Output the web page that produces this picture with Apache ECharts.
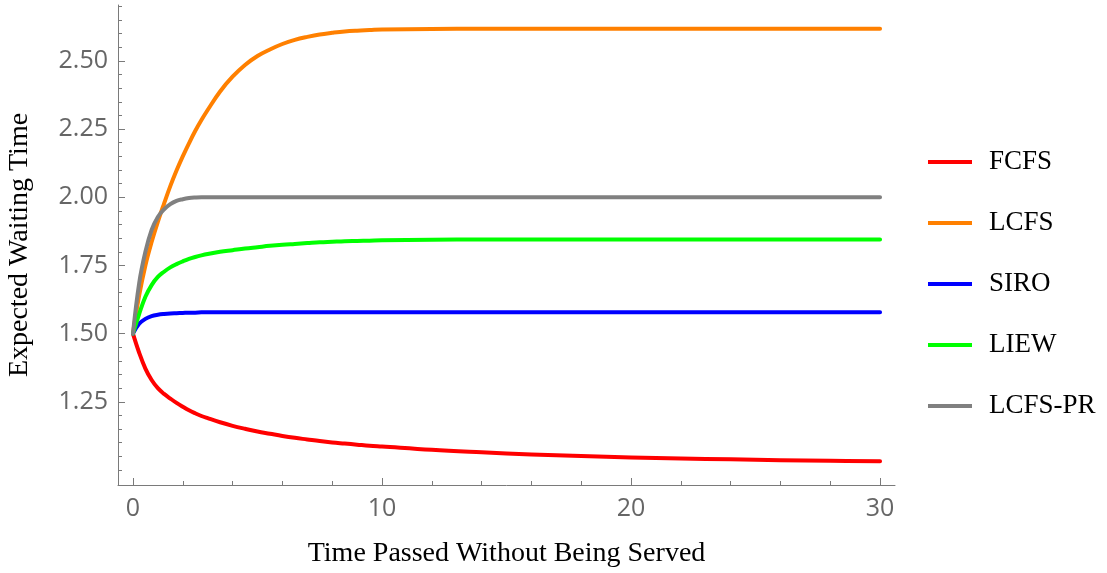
<!DOCTYPE html>
<html>
<head>
<meta charset="utf-8">
<script src="https://cdn.jsdelivr.net/npm/echarts@6/dist/echarts.min.js"></script>
<style>html,body{margin:0;padding:0;background:#fff}#c{width:1107px;height:573px}</style>
</head>
<body>
<div id="c"></div>
<script>
// Time values (x)
const timePoints = [0, 0.25, 0.5, 0.75, 1, 1.25, 1.5, 1.75, 2, 2.25, 2.5, 2.75, 3,
  3.5, 4, 4.5, 5, 5.5, 6, 6.5, 7, 7.5, 8, 8.5, 9, 9.5, 10,
  12, 14, 16, 18, 20, 22, 24, 26, 28, 30];
// Series values
const fcfs = [1.5, 1.43, 1.372, 1.330, 1.300, 1.279, 1.262, 1.246, 1.232, 1.219, 1.208, 1.198, 1.190,
  1.175, 1.162, 1.151, 1.141, 1.133, 1.125, 1.118, 1.112, 1.106, 1.101, 1.097, 1.093, 1.089, 1.086,
  1.074, 1.065, 1.057, 1.051, 1.046, 1.042, 1.039, 1.036, 1.034, 1.032];
const lcfs = [1.5, 1.64, 1.75, 1.836, 1.91, 1.977, 2.041, 2.098, 2.15, 2.198, 2.243, 2.283, 2.32,
  2.388, 2.442, 2.485, 2.518, 2.542, 2.562, 2.577, 2.588, 2.597, 2.603, 2.608, 2.611, 2.613, 2.615,
  2.617, 2.618, 2.618, 2.618, 2.618, 2.618, 2.618, 2.618, 2.618, 2.618];
const siro = [1.5, 1.536, 1.554, 1.564, 1.569, 1.572, 1.574, 1.575, 1.576, 1.577, 1.577, 1.578, 1.578,
  1.578, 1.578, 1.578, 1.578, 1.578, 1.578, 1.578, 1.578, 1.578, 1.578, 1.578, 1.578, 1.578, 1.578,
  1.578, 1.578, 1.578, 1.578, 1.578, 1.578, 1.578, 1.578, 1.578, 1.578];
const liew = [1.5, 1.572, 1.635, 1.678, 1.708, 1.727, 1.743, 1.755, 1.765, 1.774, 1.781, 1.787, 1.792,
  1.800, 1.806, 1.812, 1.817, 1.822, 1.826, 1.829, 1.832, 1.835, 1.837, 1.839, 1.840, 1.841, 1.842,
  1.844, 1.845, 1.845, 1.845, 1.845, 1.845, 1.845, 1.845, 1.845, 1.845];
const lcfsPr = [1.5, 1.685, 1.80, 1.88, 1.928, 1.956, 1.975, 1.987, 1.993, 1.997, 1.999, 2.0, 2.0,
  2.0, 2.0, 2.0, 2.0, 2.0, 2.0, 2.0, 2.0, 2.0, 2.0, 2.0, 2.0, 2.0, 2.0,
  2.0, 2.0, 2.0, 2.0, 2.0, 2.0, 2.0, 2.0, 2.0, 2.0];

const seriesNames = ['FCFS', 'LCFS', 'SIRO', 'LIEW', 'LCFS-PR'];
const seriesColors = ['#ff0000', '#ff8000', '#0000ff', '#00ff00', '#808080'];
const seriesValues = [fcfs, lcfs, siro, liew, lcfsPr];

// Tick values
const xMajorTicks = [0, 10, 20, 30];
const xMinorTicks = [2, 4, 6, 8, 12, 14, 16, 18, 22, 24, 26, 28];
const yMajorTicks = [1.25, 1.5, 1.75, 2.0, 2.25, 2.5];
const yMinorTicks = [1.0, 1.05, 1.1, 1.15, 1.2, 1.3, 1.35, 1.4, 1.45, 1.55, 1.6, 1.65, 1.7, 1.8, 1.85, 1.9, 1.95, 2.05, 2.1, 2.15, 2.2, 2.3, 2.35, 2.4, 2.45, 2.55, 2.6, 2.65, 2.7];

const xMin = -0.6, xMax = 30.6, yMin = 0.945, yMax = 2.705;
const axisColor = '#7a7a7a';
const labelFont = 'Open Sans';
const serifFont = 'Liberation Serif';

const chart = echarts.init(document.getElementById('c'), null, {renderer: 'canvas'});

const xAxisBase = {type: 'value', gridIndex: 0, position: 'bottom', min: xMin, max: xMax, splitLine: {show: false}};
const yAxisBase = {type: 'value', gridIndex: 0, position: 'left', min: yMin, max: yMax, splitLine: {show: false}};

chart.setOption({
  animation: false,
  backgroundColor: '#fff',
  grid: {left: 118, right: 212, top: 5, bottom: 88, containLabel: false, outerBoundsMode: 'none'},
  legend: {
    orient: 'vertical',
    left: 928,
    top: 147,
    padding: 0,
    itemWidth: 44,
    itemHeight: 4,
    itemGap: 31,
    icon: 'rect',
    data: seriesNames,
    textStyle: {fontFamily: serifFont, fontSize: 27, color: '#000', lineHeight: 30, padding: [0, 0, 0, 12]}
  },
  xAxis: [
    Object.assign({}, xAxisBase, {
      name: 'Time Passed Without Being Served',
      nameLocation: 'middle',
      nameGap: 55,
      nameTextStyle: {fontFamily: serifFont, fontSize: 28, color: '#000'},
      axisLine: {show: true, onZero: false, lineStyle: {color: axisColor, width: 1}},
      axisTick: {show: true, inside: true, length: 7, customValues: xMajorTicks, lineStyle: {color: axisColor}},
      axisLabel: {show: true, customValues: xMajorTicks, margin: 11, fontFamily: labelFont, fontSize: 25, color: '#666'}
    }),
    Object.assign({}, xAxisBase, {
      axisLine: {show: false, onZero: false},
      axisTick: {show: true, inside: true, length: 4, customValues: xMinorTicks, lineStyle: {color: axisColor}},
      axisLabel: {show: false}
    })
  ],
  yAxis: [
    Object.assign({}, yAxisBase, {
      name: 'Expected Waiting Time',
      nameLocation: 'middle',
      nameGap: 84,
      nameTextStyle: {fontFamily: serifFont, fontSize: 28, color: '#000'},
      axisLine: {show: true, onZero: false, lineStyle: {color: axisColor, width: 1}},
      axisTick: {show: true, inside: true, length: 7, customValues: yMajorTicks, lineStyle: {color: axisColor}},
      axisLabel: {show: true, customValues: yMajorTicks, margin: 10, fontFamily: labelFont, fontSize: 25, color: '#666',
        formatter: v => v.toFixed(2)}
    }),
    Object.assign({}, yAxisBase, {
      axisLine: {show: false, onZero: false},
      axisTick: {show: true, inside: true, length: 4, customValues: yMinorTicks, lineStyle: {color: axisColor}},
      axisLabel: {show: false}
    })
  ],
  series: seriesNames.map((name, i) => ({
    name: name,
    type: 'line',
    xAxisIndex: 0,
    yAxisIndex: 0,
    data: timePoints.map((t, j) => [t, seriesValues[i][j]]),
    showSymbol: false,
    symbol: 'none',
    smooth: 0.4,
    color: seriesColors[i],
    lineStyle: {color: seriesColors[i], width: 4, cap: 'round', join: 'round'},
    z: 2 + i
  }))
});
</script>
</body>
</html>
